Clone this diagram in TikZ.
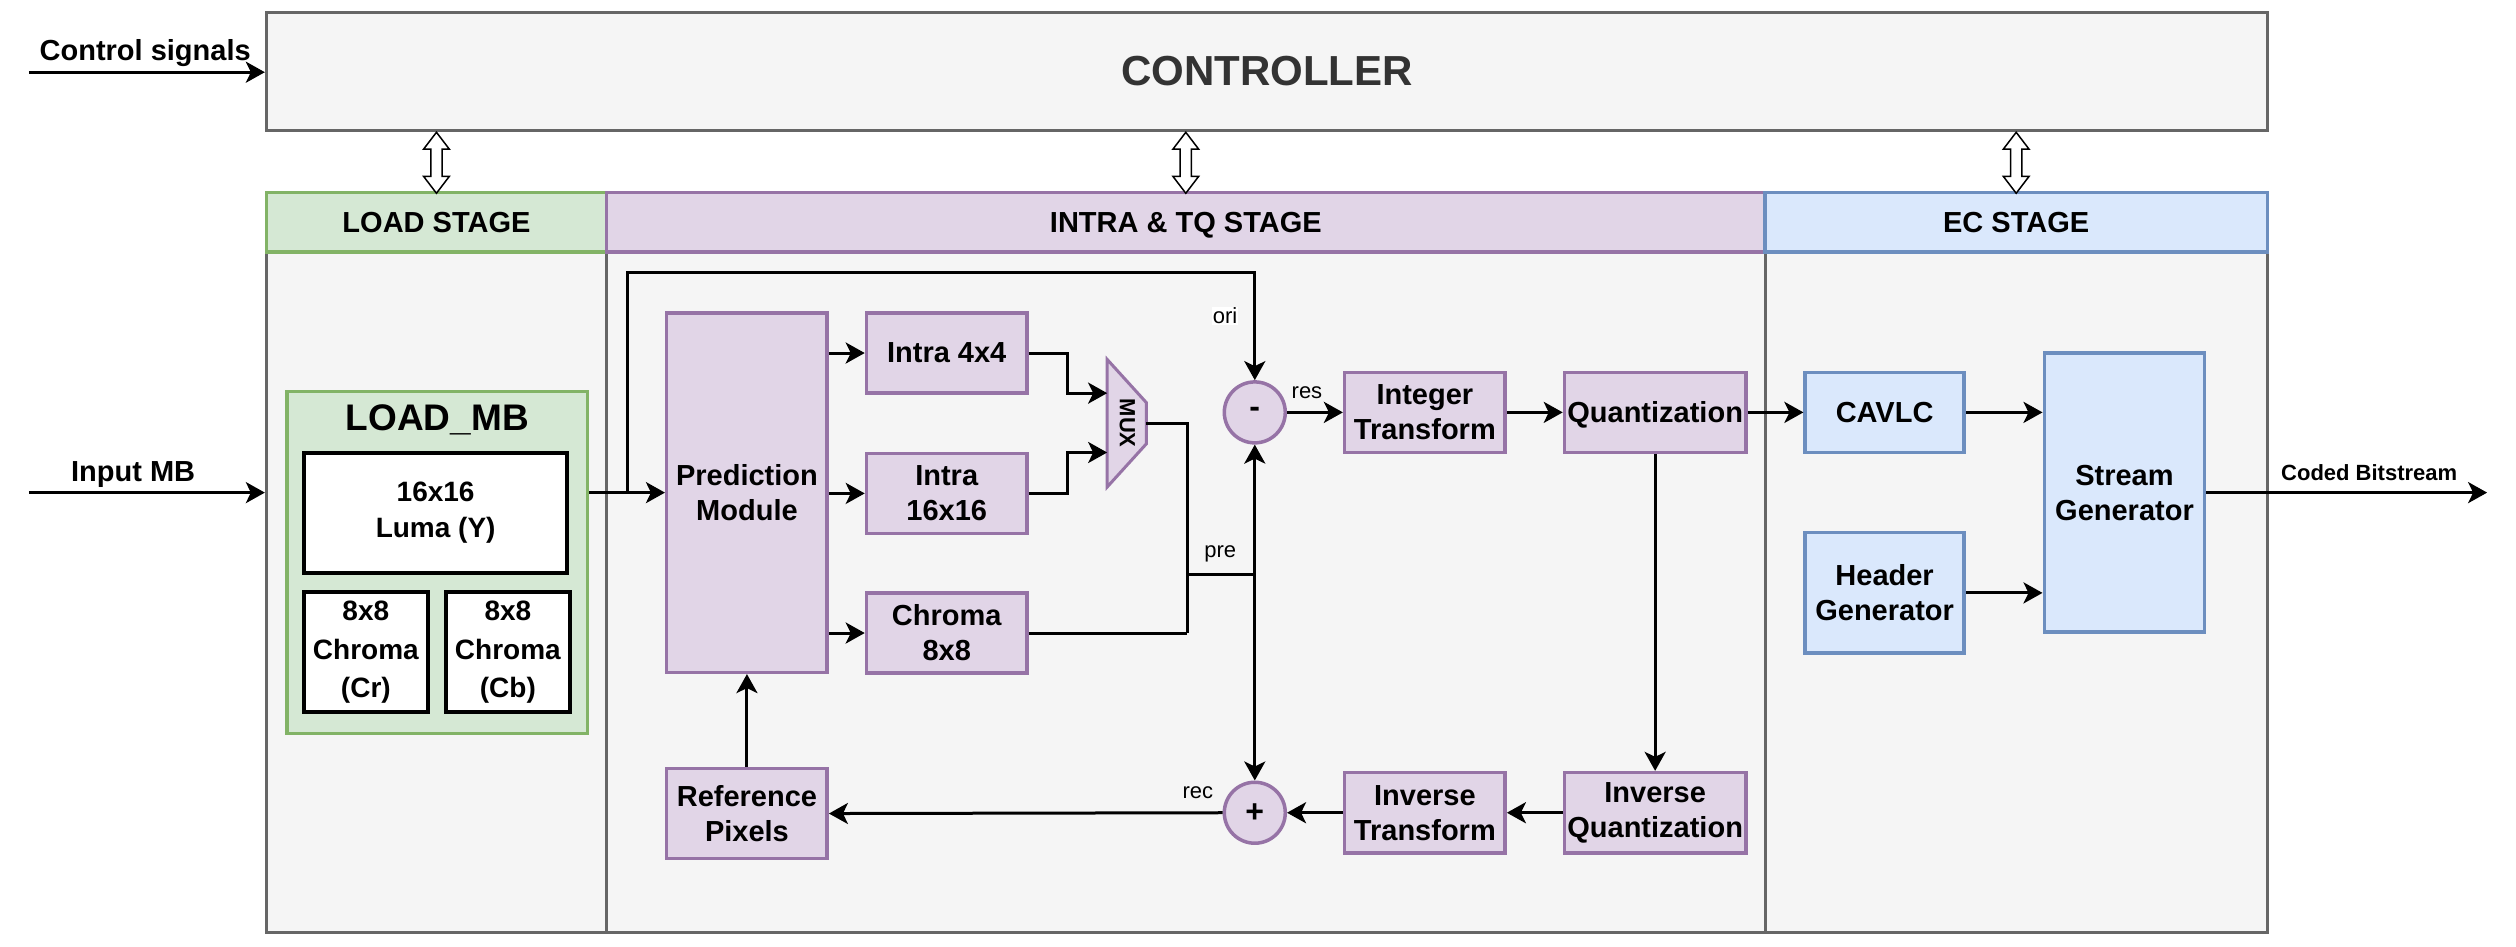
\documentclass[tikz,border=0pt]{standalone}
\usepackage{fontspec}
\setmainfont{Liberation Sans}
\usetikzlibrary{arrows.meta,calc}
\newdimen\sk \sk=1.6046pt
\definecolor{stgfill}{HTML}{F5F5F5}
\definecolor{stgdraw}{HTML}{666666}
\definecolor{gfill}{HTML}{D5E8D4}
\definecolor{gdraw}{HTML}{82B366}
\definecolor{pfill}{HTML}{E1D5E7}
\definecolor{pdraw}{HTML}{9673A6}
\definecolor{bfill}{HTML}{DAE8FC}
\definecolor{bdraw}{HTML}{6C8EBF}
\definecolor{ctxt}{HTML}{333333}
\begin{document}
\begin{tikzpicture}[x=1.6046pt, y=-1.6046pt,
  sz/.style 2 args={minimum width=#1*\sk, minimum height=#2*\sk},
  txt/.style={font=\fontsize{29}{35}\selectfont\bfseries, align=center},
  stage/.style={draw=stgdraw, fill=stgfill, line width=3pt, inner sep=0},
  hdr/.style={line width=3.5pt, inner sep=0, txt},
  wbox/.style={draw=black, fill=white, line width=4pt, inner sep=0, align=center},
  pbox/.style={draw=pdraw, fill=pfill, line width=3.5pt, inner sep=0, txt},
  bbox/.style={draw=bdraw, fill=bfill, line width=3.5pt, inner sep=0, txt},
  circ/.style={circle, draw=pdraw, fill=pfill, line width=3.5pt, inner sep=0, minimum size=38*\sk, font=\fontsize{32}{36}\selectfont\bfseries},
  line/.style={draw=black, line width=3pt},
  conn/.style={line, -{Stealth[length=19pt, width=21pt, inset=5pt]}},
  lbl/.style={font=\fontsize{22}{26}\selectfont, inner sep=1pt},
  dblarrow/.style={draw=black, fill=white, line width=1.5pt},
  pics/dbl/.style={code={\path[dblarrow] (0,0) -- (8,10.5) -- (3.5,10.5) -- (3.5,27.5) -- (8,27.5) -- (0,38) -- (-8,27.5) -- (-3.5,27.5) -- (-3.5,10.5) -- (-8,10.5) -- cycle;}}
]
\fill[white] (0,0) rectangle (1568,590);
\useasboundingbox (0,0) rectangle (1568,590);

% controller
\node[stage, sz={1247}{74}, font=\fontsize{42}{50}\selectfont\bfseries, text=ctxt] (ctrl) at (789.5,44.5) {CONTROLLER};

% stages
\node[stage, sz={212}{424}] (loadb) at (272,369) {};
\node[stage, sz={722}{424}] (intrab) at (739,369) {};
\node[stage, sz={313}{424}] (ecb) at (1256.5,369) {};
\node[hdr, draw=gdraw, fill=gfill, sz={212}{37}, text depth=0pt] (loadh) at (272,138.5) {LOAD STAGE};
\node[hdr, draw=pdraw, fill=pfill, sz={722}{37}, text depth=0pt] (intrah) at (739,138.5) {INTRA \& TQ STAGE};
\node[hdr, draw=bdraw, fill=bfill, sz={313}{37}, text depth=0pt] (ech) at (1256.5,138.5) {EC STAGE};

% controller <-> stages
\pic at (loadh.north |- ctrl.south) {dbl};
\pic at (intrah.north |- ctrl.south) {dbl};
\pic at (ech.north |- ctrl.south) {dbl};

% inputs
\node[txt] (lcs) at (90.5,33) {Control signals};
\coordinate (cs) at (18,45);
\draw[conn] (cs) -- (ctrl.west |- cs);
\node[txt] (limb) at (83,296) {Input MB};
\coordinate (imb) at (18,307);
\draw[conn] (imb) -- (loadb.west |- imb);

% LOAD_MB
\node[draw=gdraw, fill=gfill, line width=3.5pt, inner sep=0, sz={187}{213}] (loadmb) at (272.5,350.5) {};
\node[font=\fontsize{37}{44}\selectfont\bfseries] (loadmbt) at (272.5,261.5) {LOAD\_MB};
\node[wbox, sz={164}{75}, font=\fontsize{28}{35.5}\selectfont\bfseries] (luma) at (271.5,319.5) {16x16\\Luma (Y)};
\node[wbox, sz={77}{75}, font=\fontsize{28}{38.5}\selectfont\bfseries] (cr) at (228,406.5) {8x8\\Chroma\\(Cr)};
\node[wbox, sz={77}{75}, font=\fontsize{28}{38.5}\selectfont\bfseries] (cb) at (316.5,406.5) {8x8\\Chroma\\(Cb)};

% intra & TQ
\node[pbox, sz={100}{224}] (pm) at (465.5,307) {Prediction\\Module};
\node[pbox, sz={100}{50}] (i4) at (590,220) {Intra 4x4};
\node[pbox, sz={100}{50}] (i16) at (590,307.5) {Intra\\16x16};
\node[pbox, sz={100}{50}] (c8) at (590,394.5) {Chroma\\8x8};
\node[pbox, sz={100}{56}] (rp) at (465.5,507) {Reference\\Pixels};
\node[pbox, sz={100}{50}] (it) at (888,257) {Integer\\Transform};
\node[pbox, sz={113}{50}, text depth=0pt] (q) at (1031.5,257) {Quantization};
\node[pbox, sz={113}{50}] (iq) at (1031.5,506.5) {Inverse\\Quantization};
\node[pbox, sz={100}{50}] (itr) at (888,506.5) {Inverse\\Transform};
\node[circ] (minus) at (782,257) {-};
\node[circ] (plus) at (782,506.5) {+};

% MUX
\path[draw=pdraw, fill=pfill, line width=3pt] (690,224) -- (714.5,251) -- (714.5,276.5) -- (690,303.5) -- cycle;
\node[font=\fontsize{22}{26}\selectfont\bfseries, rotate=-90] (mux) at (702.5,263.75) {MUX};
\coordinate (muxin1) at (690,245);
\coordinate (muxin2) at (690,282);
\coordinate (muxout) at (714.5,263.75);

% EC
\node[bbox, sz={99}{50}, text depth=0pt] (cavlc) at (1174.5,257) {CAVLC};
\node[bbox, sz={99}{75}] (hg) at (1174.5,369.5) {Header\\Generator};
\node[bbox, sz={100}{174}] (sg) at (1324,307) {Stream\\Generator};

% connectors
\draw[conn] (loadmb.east |- pm.west) -- (pm.west);
\coordinate (br) at (391,307);
\coordinate (oc) at (391,170);
\draw[conn] (br) -- (oc) -| (minus.north);
\draw[conn] (pm.east |- i4) -- (i4.west);
\draw[conn] (pm.east |- i16) -- (i16.west);
\draw[conn] (pm.east |- c8) -- (c8.west);
\coordinate (k) at (665,0);
\draw[conn] (i4.east) -| (k |- muxin1) -- (muxin1);
\draw[conn] (i16.east) -| (k |- muxin2) -- (muxin2);
\coordinate (mj) at (740,394.5);
\draw[line] (muxout) -| (mj);
\draw[line] (c8.east) -- (mj);
\coordinate (pj) at (740,358);
\draw[line] (pj) -- (minus |- pj);
\draw[conn] (minus |- pj) -- (minus.south);
\draw[conn] (minus |- pj) -- (plus.north);
\draw[conn] (minus.east) -- (it.west);
\draw[conn] (it.east) -- (q.west);
\draw[conn] (q.east) -- (cavlc.west);
\draw[conn] (q.south) -- (iq.north);
\draw[conn] (iq.west) -- (itr.east);
\draw[conn] (itr.west) -- (plus.east);
\draw[conn] (plus.west) -- (rp.east);
\draw[conn] (rp.north) -- (pm.south);
\draw[conn] (cavlc.east) -- (sg.west |- cavlc.east);
\draw[conn] (hg.east) -- (sg.west |- hg.east);
\coordinate (out) at (1550,307);
\draw[conn] (sg.east) -- (out);

% labels
\node[font=\fontsize{22}{26}\selectfont\bfseries] (lcb) at (1476.5,294.5) {Coded Bitstream};
\node[lbl, fill=white] (lori) at (763.5,197) {ori};
\node[lbl] (lres) at (814.5,245) {res};
\node[lbl] (lpre) at (760.5,345) {pre};
\node[lbl] (lrec) at (746.5,494) {rec};
\end{tikzpicture}
\end{document}
